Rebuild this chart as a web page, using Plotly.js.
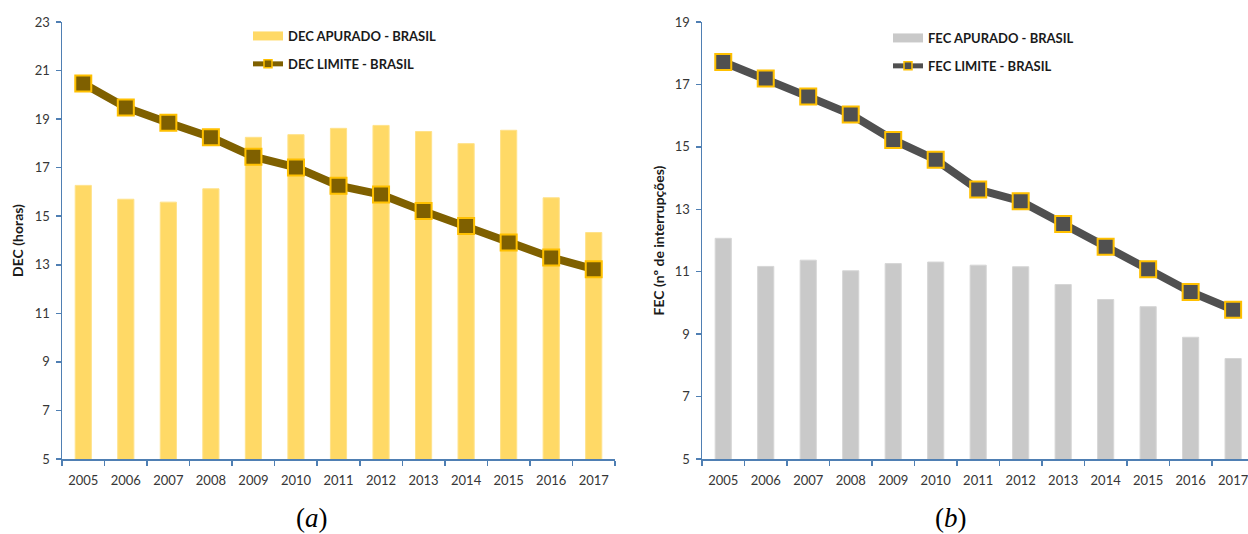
<!DOCTYPE html>
<html>
<head>
<meta charset="utf-8">
<script src="https://cdn.plot.ly/plotly-3.0.1.min.js"></script>
<style>
  html, body { margin: 0; padding: 0; background: #ffffff; }
  #chart { width: 1248px; height: 534px; }
</style>
</head>
<body>
<div id="chart"></div>
<script>
// Continuity indicators for Brazil, 2005-2017
const years = ['2005', '2006', '2007', '2008', '2009', '2010', '2011', '2012', '2013', '2014', '2015', '2016', '2017'];

// DEC (hours)
const decApurado = [16.27, 15.70, 15.58, 16.13, 18.25, 18.36, 18.62, 18.74, 18.49, 17.99, 18.54, 15.76, 14.33];
const decLimite  = [20.47, 19.48, 18.85, 18.25, 17.45, 17.01, 16.26, 15.89, 15.21, 14.60, 13.92, 13.30, 12.82];

// FEC (number of interruptions)
const fecApurado = [12.07, 11.17, 11.37, 11.03, 11.26, 11.31, 11.21, 11.16, 10.59, 10.11, 9.88, 8.90, 8.22];
const fecLimite  = [17.72, 17.19, 16.61, 16.04, 15.22, 14.59, 13.63, 13.26, 12.53, 11.80, 11.08, 10.35, 9.78];

const names = {
  decA: 'DEC APURADO - BRASIL', decL: 'DEC LIMITE - BRASIL',
  fecA: 'FEC APURADO - BRASIL', fecL: 'FEC LIMITE - BRASIL'
};

const W = 1248, H = 534;
const px = v => v / W;
const py = v => (H - v) / H;

const gold = '#ffd966', olive = '#7f6000', grey = '#c9c9c9', charcoal = '#505050', amber = '#ffc000';
const axisBlue = '#4f7fb3';
const sans = 'Lato, "Open Sans", sans-serif';
const tickFont = { family: sans, size: 13, color: '#363636' };
const legendFont = { family: sans, size: 13, color: '#1a1a1a', weight: 'bold' };

// Plotted series (legend entries are drawn by the swatch traces below)
const dataTraces = [
  { type: 'bar', x: years, y: decApurado, name: names.decA, xaxis: 'x', yaxis: 'y', width: 0.38,
    marker: { color: gold, line: { color: '#ffe28a', width: 1 } }, showlegend: false },
  { type: 'scatter', mode: 'lines+markers', x: years, y: decLimite, name: names.decL, xaxis: 'x', yaxis: 'y',
    line: { color: olive, width: 8 },
    marker: { symbol: 'square', size: 16, color: olive, line: { color: amber, width: 2 } }, showlegend: false },
  { type: 'bar', x: years, y: fecApurado, name: names.fecA, xaxis: 'x2', yaxis: 'y2', width: 0.38,
    marker: { color: grey, line: { color: '#d6d6d6', width: 1 } }, showlegend: false },
  { type: 'scatter', mode: 'lines+markers', x: years, y: fecLimite, name: names.fecL, xaxis: 'x2', yaxis: 'y2',
    line: { color: charcoal, width: 8 },
    marker: { symbol: 'square', size: 16, color: charcoal, line: { color: amber, width: 2 } }, showlegend: false }
];

// Legend swatches: wide bar patch and a thinner line with a small marker
function swatchBar(name, color, legend, group, xa, ya) {
  return { type: 'scatter', mode: 'lines', x: [null], y: [null], xaxis: xa, yaxis: ya, name: name,
           line: { color: color, width: 9 }, legend: legend, legendgroup: group, hoverinfo: 'skip' };
}
function swatchLine(name, color, legend, group, xa, ya) {
  return { type: 'scatter', mode: 'lines+markers', x: [null], y: [null], xaxis: xa, yaxis: ya, name: name,
           line: { color: color, width: 5 },
           marker: { symbol: 'square', size: 8, color: color, line: { color: amber, width: 1.5 } },
           legend: legend, legendgroup: group, hoverinfo: 'skip' };
}
const legendTraces = [
  swatchBar(names.decA, gold, 'legend', 'a1', 'x', 'y'),
  swatchLine(names.decL, olive, 'legend', 'a2', 'x', 'y'),
  swatchBar(names.fecA, grey, 'legend2', 'b1', 'x2', 'y2'),
  swatchLine(names.fecL, charcoal, 'legend2', 'b2', 'x2', 'y2')
];

const xCommon = {
  type: 'category', showline: true, linecolor: axisBlue, linewidth: 1.5,
  ticks: 'outside', tickson: 'boundaries', ticklen: 5, tickcolor: axisBlue, tickwidth: 1.5,
  ticklabelstandoff: 9,
  showgrid: false, zeroline: false, tickfont: tickFont, fixedrange: true
};
const yCommon = {
  showline: true, linecolor: axisBlue, linewidth: 1.5,
  ticks: 'outside', ticklen: 5, tickcolor: axisBlue, tickwidth: 1.5,
  ticklabelstandoff: 3,
  showgrid: false, zeroline: false, tickfont: tickFont, dtick: 2, fixedrange: true
};
const yDomain = [py(459), py(22)];
const titleFont = { family: sans, size: 14, color: '#1a1a1a' };

const layout = {
  width: W, height: H,
  margin: { l: 0, r: 0, t: 0, b: 0 },
  paper_bgcolor: '#ffffff', plot_bgcolor: '#ffffff',
  showlegend: true, barmode: 'overlay',
  xaxis: Object.assign({}, xCommon, { domain: [px(62), px(615)], anchor: 'y', range: [-0.5, 12.5] }),
  yaxis: Object.assign({}, yCommon, {
    domain: yDomain, anchor: 'x', range: [5, 23], tick0: 5,
    title: { text: '<b>DEC (horas)</b>', standoff: 8, font: titleFont }
  }),
  xaxis2: Object.assign({}, xCommon, { domain: [px(702), 1], anchor: 'y2', range: [-0.5, 12.35] }),
  yaxis2: Object.assign({}, yCommon, {
    domain: yDomain, anchor: 'x2', range: [5, 19], tick0: 5,
    title: { text: '<b>FEC (nº de interrupções)</b>', standoff: 7, font: titleFont }
  }),
  legend: {
    x: px(248), y: py(21), xanchor: 'left', yanchor: 'top',
    bgcolor: 'rgba(0,0,0,0)', font: legendFont, traceorder: 'grouped',
    tracegroupgap: 8, itemwidth: 30
  },
  legend2: {
    x: px(888), y: py(23), xanchor: 'left', yanchor: 'top',
    bgcolor: 'rgba(0,0,0,0)', font: legendFont, traceorder: 'grouped',
    tracegroupgap: 8, itemwidth: 30
  },
  annotations: [
    { text: '(<i>a</i>)', xref: 'paper', yref: 'paper', x: px(312), y: py(518),
      xanchor: 'center', yanchor: 'middle', showarrow: false,
      font: { family: '"Liberation Serif", "DejaVu Serif", serif', size: 27, color: '#000000' } },
    { text: '(<i>b</i>)', xref: 'paper', yref: 'paper', x: px(951), y: py(518),
      xanchor: 'center', yanchor: 'middle', showarrow: false,
      font: { family: '"Liberation Serif", "DejaVu Serif", serif', size: 27, color: '#000000' } }
  ]
};

Plotly.newPlot('chart', dataTraces.concat(legendTraces), layout, { staticPlot: true, displayModeBar: false });
</script>
</body>
</html>
